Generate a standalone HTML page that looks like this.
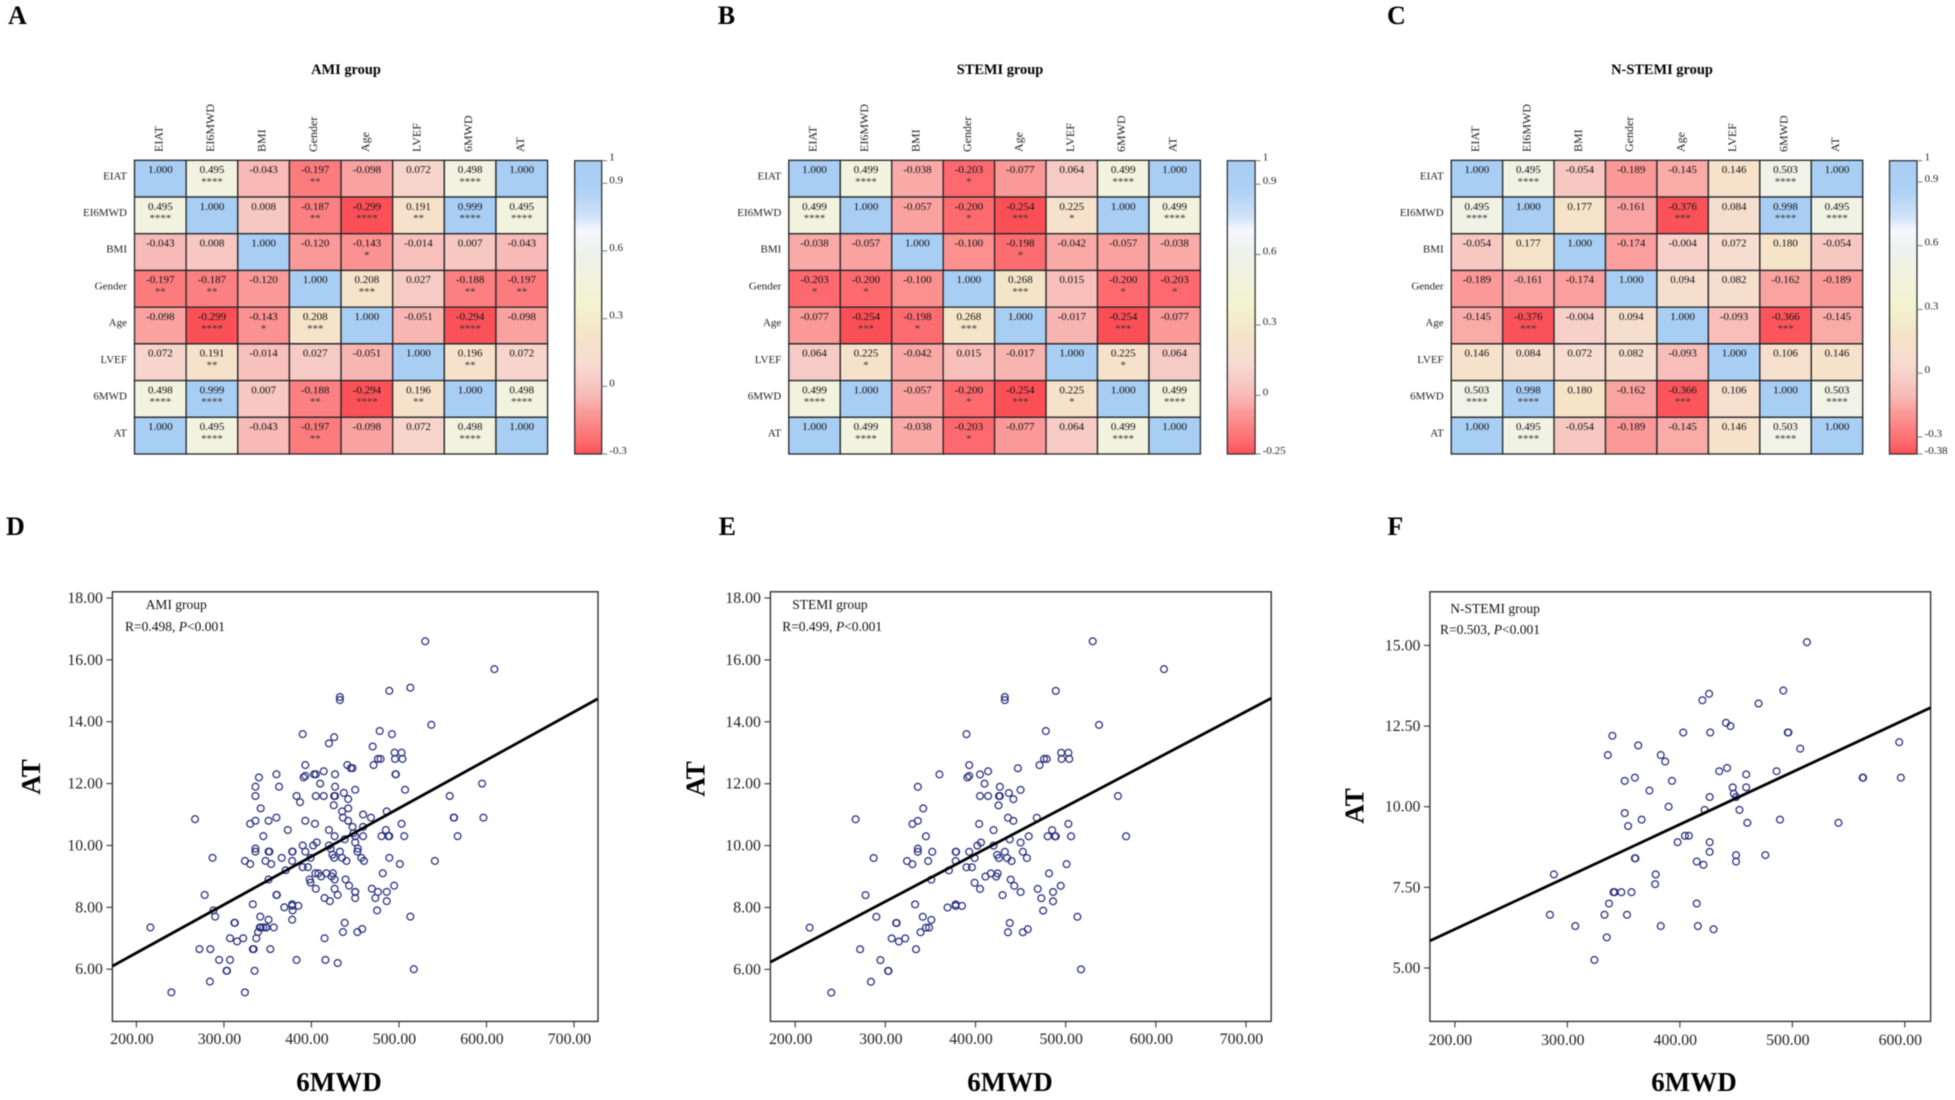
<!DOCTYPE html>
<html lang="en">
<head>
<meta charset="utf-8">
<title>Correlation heatmaps and scatter plots</title>
<style>
html,body{margin:0;padding:0;background:#fff;}
#figure{display:block;width:1955px;height:1100px;font-family:"Liberation Serif",serif;filter:blur(0.4px);}
</style>
</head>
<body>
<svg id="figure" xmlns="http://www.w3.org/2000/svg" width="1955" height="1100" viewBox="0 0 1955 1100">
<defs id="defs"></defs>
</svg>
<script>
/* ---------- heatmap data ---------- */
const variables = ["EIAT","EI6MWD","BMI","Gender","Age","LVEF","6MWD","AT"];

const matrixAmi = [
 [1,0.495,-0.043,-0.197,-0.098,0.072,0.498,1],
 [0.495,1,0.008,-0.187,-0.299,0.191,0.999,0.495],
 [-0.043,0.008,1,-0.120,-0.143,-0.014,0.007,-0.043],
 [-0.197,-0.187,-0.120,1,0.208,0.027,-0.188,-0.197],
 [-0.098,-0.299,-0.143,0.208,1,-0.051,-0.294,-0.098],
 [0.072,0.191,-0.014,0.027,-0.051,1,0.196,0.072],
 [0.498,0.999,0.007,-0.188,-0.294,0.196,1,0.498],
 [1,0.495,-0.043,-0.197,-0.098,0.072,0.498,1]
];
const starsAmi = [
 [0,4,0,2,0,0,4,0],
 [4,0,0,2,4,2,4,4],
 [0,0,0,0,1,0,0,0],
 [2,2,0,0,3,0,2,2],
 [0,4,1,3,0,0,4,0],
 [0,2,0,0,0,0,2,0],
 [4,4,0,2,4,2,0,4],
 [0,4,0,2,0,0,4,0]
];
const colorbarTicksAmi = [1,0.9,0.6,0.3,0,-0.3];

const matrixStemi = [
 [1,0.499,-0.038,-0.203,-0.077,0.064,0.499,1],
 [0.499,1,-0.057,-0.200,-0.254,0.225,1,0.499],
 [-0.038,-0.057,1,-0.100,-0.198,-0.042,-0.057,-0.038],
 [-0.203,-0.200,-0.100,1,0.268,0.015,-0.200,-0.203],
 [-0.077,-0.254,-0.198,0.268,1,-0.017,-0.254,-0.077],
 [0.064,0.225,-0.042,0.015,-0.017,1,0.225,0.064],
 [0.499,1,-0.057,-0.200,-0.254,0.225,1,0.499],
 [1,0.499,-0.038,-0.203,-0.077,0.064,0.499,1]
];
const starsStemi = [
 [0,4,0,1,0,0,4,0],
 [4,0,0,1,3,1,0,4],
 [0,0,0,0,1,0,0,0],
 [1,1,0,0,3,0,1,1],
 [0,3,1,3,0,0,3,0],
 [0,1,0,0,0,0,1,0],
 [4,0,0,1,3,1,0,4],
 [0,4,0,1,0,0,4,0]
];
const colorbarTicksStemi = [1,0.9,0.6,0.3,0,-0.25];

const matrixNstemi = [
 [1,0.495,-0.054,-0.189,-0.145,0.146,0.503,1],
 [0.495,1,0.177,-0.161,-0.376,0.084,0.998,0.495],
 [-0.054,0.177,1,-0.174,-0.004,0.072,0.180,-0.054],
 [-0.189,-0.161,-0.174,1,0.094,0.082,-0.162,-0.189],
 [-0.145,-0.376,-0.004,0.094,1,-0.093,-0.366,-0.145],
 [0.146,0.084,0.072,0.082,-0.093,1,0.106,0.146],
 [0.503,0.998,0.180,-0.162,-0.366,0.106,1,0.503],
 [1,0.495,-0.054,-0.189,-0.145,0.146,0.503,1]
];
const starsNstemi = [
 [0,4,0,0,0,0,4,0],
 [4,0,0,0,3,0,4,4],
 [0,0,0,0,0,0,0,0],
 [0,0,0,0,0,0,0,0],
 [0,3,0,0,0,0,3,0],
 [0,0,0,0,0,0,0,0],
 [4,4,0,0,3,0,0,4],
 [0,4,0,0,0,0,4,0]
];
const colorbarTicksNstemi = [1,0.9,0.6,0.3,0,-0.3,-0.38];

/* ---------- scatter data ---------- */
const stemiWalk = [530,609,489,432.5,432.5,537,390,478,495,503,495.5,504,476,479,471,393,447,414,360,405,391,393,410,336,427,450,437,405,414,426,427,558,442,425.5,342,436,468,267,336,442,330,404,503,420,485,345,459,480,488,489,506,567,438,406,450,402,420,336,336,352,378,378.5,393,432.5,452.5,424,287,399,426,435,457,324,347.5,378,440,330,501,390,396,370.5,417,424.5,481.5,411,423,351,439,399,443,494.5,405,469,450,486,278,430,473,486,333,378,378,385,369,475,290,341.5,513,351,312,312.5,438,216,345,348.5,458,339,436,452.5,307,322,315,272,334,294.5,303,303.5,517,284,240];
const stemiAT = [16.6,15.7,15.0,14.8,14.7,13.9,13.6,13.7,13.0,13.0,12.8,12.8,12.8,12.8,12.6,12.6,12.5,12.4,12.3,12.3,12.2,12.25,12.0,11.9,11.9,11.8,11.7,11.6,11.6,11.6,11.6,11.6,11.5,11.3,11.2,10.9,10.9,10.85,10.8,10.8,10.7,10.7,10.7,10.5,10.5,10.3,10.3,10.3,10.3,10.3,10.3,10.3,10.2,10.1,10.1,10.0,10.0,9.9,9.8,9.8,9.8,9.8,9.8,9.8,9.8,9.7,9.6,9.6,9.6,9.6,9.6,9.5,9.5,9.5,9.5,9.4,9.4,9.3,9.3,9.2,9.1,9.1,9.1,9.0,9.0,8.9,8.9,8.8,8.7,8.7,8.6,8.6,8.5,8.5,8.4,8.4,8.3,8.2,8.1,8.1,8.05,8.05,8.0,7.9,7.7,7.7,7.7,7.6,7.5,7.5,7.5,7.35,7.35,7.35,7.3,7.2,7.2,7.2,7.0,7.0,6.9,6.65,6.65,6.3,5.95,5.95,6.0,5.6,5.25];

const nstemiWalk = [513,492,426,420,470,441,445,403,427,496,496.5,340,363,595,507,336,383,387,442,435,486,459,360,562.5,563,596.5,351,393,447,459,373,448,426.5,450,390,422,453,351,366,489,354,460,541,404.5,408,398,426.5,426.5,450,476,360,360.5,415,450,421,288,378.5,378,341,342,348,357,337,415,284.5,333,353,307,383,416,430,335,324];
const nstemiAT = [15.1,13.6,13.5,13.3,13.2,12.6,12.5,12.3,12.3,12.3,12.3,12.2,11.9,12.0,11.8,11.6,11.6,11.4,11.2,11.1,11.1,11.0,10.9,10.9,10.9,10.9,10.8,10.8,10.6,10.6,10.5,10.4,10.3,10.3,10.0,9.9,9.9,9.8,9.6,9.6,9.4,9.5,9.5,9.1,9.1,8.9,8.9,8.6,8.5,8.5,8.4,8.4,8.3,8.3,8.2,7.9,7.9,7.6,7.35,7.35,7.35,7.35,7.0,7.0,6.65,6.65,6.65,6.3,6.3,6.3,6.2,5.95,5.25];

/* The whole AMI cohort is the STEMI patients plus the N-STEMI patients. */
const amiWalk = stemiWalk.concat(nstemiWalk);
const amiAT = stemiAT.concat(nstemiAT);

const fitAmiWalk = [172.6,727];
const fitAmiAT = [6.1,14.74];
const fitStemiWalk = [172.5,728];
const fitStemiAT = [6.235,14.76];
const fitNstemiWalk = [177.7,623];
const fitNstemiAT = [5.84,13.07];

const walkTicksWide = [200,300,400,500,600,700];
const walkTicksNarrow = [200,300,400,500,600];
const atTicksWide = [6,8,10,12,14,16,18];
const atTicksNarrow = [5,7.5,10,12.5,15];

/* ---------- drawing ---------- */
const SVG_NS = "http://www.w3.org/2000/svg";
const svg = document.getElementById("figure");
const defs = document.getElementById("defs");

function add(parent, tag, attrs, text) {
  const node = document.createElementNS(SVG_NS, tag);
  for (const key in attrs) node.setAttribute(key, attrs[key]);
  if (text !== undefined) node.textContent = text;
  parent.appendChild(node);
  return node;
}

function linearScale(v0, p0, v1, p1) {
  return function (v) { return p0 + (v - v0) * (p1 - p0) / (v1 - v0); };
}

const rampFractions = [0,0.04,0.079,0.14,0.2,0.25,0.309,0.411,0.514,0.695,0.764,0.81,0.9,1];
const rampColors = [[251,79,86],[253,107,111],[252,124,126],[250,154,152],[248,187,183],[247,203,197],[247,219,208],[245,229,200],[243,244,207],[239,242,238],[245,247,252],[208,226,248],[174,209,245],[169,206,244]];

function rampColor(f) {
  const t = Math.max(0, Math.min(1, f));
  let i = 0;
  while (i < rampFractions.length - 2 && t > rampFractions[i + 1]) i++;
  const u = (t - rampFractions[i]) / (rampFractions[i + 1] - rampFractions[i]);
  const a = rampColors[i], b = rampColors[i + 1];
  return "rgb(" + [0,1,2].map(function (k) { return Math.round(a[k] + (b[k] - a[k]) * u); }).join(",") + ")";
}

const gradient = add(defs, "linearGradient", {id:"ramp", x1:"0", y1:"1", x2:"0", y2:"0"});
rampFractions.forEach(function (f, i) {
  add(gradient, "stop", {offset:f, "stop-color":rampColor(f)});
});

function drawHeatmap(cfg) {
  const group = add(svg, "g", {});
  
  

  const letter = add(group, "text", {x:cfg.letterX, y:24, "font-size":26, "font-weight":"bold", fill:"#000"}, cfg.letter);
  
  

  const title = add(group, "text", {x:cfg.titleX, y:74, "font-size":14.4, "font-weight":"bold", fill:"#000", "text-anchor":"middle"}, cfg.title);
  
  

  const top = 160.3, bottom = 454;
  const n = variables.length;
  const cw = (cfg.right - cfg.left) / n, ch = (bottom - top) / n;
  const lo = cfg.ticks[cfg.ticks.length - 1];
  const colorOf = linearScale(lo, 0, 1, 1);

  variables.forEach(function (name, i) {
    const col = add(group, "text", {
      x:0, y:0, "font-size":12, fill:"#222",
      transform:"translate(" + (cfg.left + cw * (i + 0.5) + 2) + " 152) rotate(-90)"
    }, name);
    
    

    const row = add(group, "text", {
      x:cfg.left - 7.5, y:top + ch * i + 19, "font-size":11, fill:"#222", "text-anchor":"end"
    }, name);
    
    
  });

  cfg.matrix.forEach(function (rowValues, r) {
    rowValues.forEach(function (value, c) {
      const x = cfg.left + cw * c, y = top + ch * r;
      const cell = add(group, "rect", {x:x, y:y, width:cw, height:ch, fill:rampColor(colorOf(value)), stroke:"#222528", "stroke-width":1.3});
      
      

      const label = add(group, "text", {x:x + cw / 2, y:y + 12.8, "font-size":11, fill:"#111", "text-anchor":"middle"}, value.toFixed(3));
      
      

      const count = cfg.stars[r][c];
      if (count > 0) {
        const mark = add(group, "text", {x:x + cw / 2, y:y + 24.6, "font-size":10.8, fill:"#333", "text-anchor":"middle"}, "*".repeat(count));
        
        
      }
    });
  });

  const barY = linearScale(lo, bottom, 1, 160.7);
  const bar = add(group, "rect", {x:cfg.barLeft, y:160.7, width:cfg.barRight - cfg.barLeft, height:bottom - 160.7, fill:"url(#ramp)", stroke:"#333", "stroke-width":1.3});
  
  

  cfg.ticks.forEach(function (t) {
    const tick = add(group, "line", {x1:cfg.barRight, x2:cfg.barRight + 5.5, y1:barY(t), y2:barY(t), stroke:"#777", "stroke-width":1});
    
    

    const tickLabel = add(group, "text", {x:cfg.barRight + 7.6, y:barY(t), "font-size":11, fill:"#222"}, String(t));
    
    
  });
}

function drawScatter(cfg) {
  const group = add(svg, "g", {});
  
  

  const letter = add(group, "text", {x:cfg.letterX, y:535, "font-size":26, "font-weight":"bold", fill:"#000"}, cfg.letter);
  
  

  const xPos = linearScale(200, cfg.x200, cfg.xRef, cfg.xRefPos);
  const yPos = linearScale(cfg.yRefA, cfg.yRefAPos, cfg.yRefB, cfg.yRefBPos);
  const top = 591.8, bottom = 1021.4;

  const frame = add(group, "rect", {x:cfg.left, y:top, width:cfg.right - cfg.left, height:bottom - top, fill:"#fff", stroke:"#333", "stroke-width":1.4});
  
  

  cfg.xTicks.forEach(function (t) {
    const tick = add(group, "line", {x1:xPos(t), x2:xPos(t), y1:bottom, y2:bottom + 6, stroke:"#333", "stroke-width":1.1});
    
    

    const label = add(group, "text", {x:xPos(t) - 4.5, y:cfg.xLabelY, "font-size":15.8, fill:"#222", "text-anchor":"middle"}, t.toFixed(2));
    
    
  });

  cfg.yTicks.forEach(function (t) {
    const tick = add(group, "line", {x1:cfg.left - 6, x2:cfg.left, y1:yPos(t), y2:yPos(t), stroke:"#333", "stroke-width":1.1});
    
    

    const label = add(group, "text", {x:cfg.left - 9.5, y:yPos(t) + 5, "font-size":15.8, fill:"#222", "text-anchor":"end"}, t.toFixed(2));
    
    
  });

  cfg.walk.forEach(function (w, i) {
    const point = add(group, "circle", {cx:xPos(w), cy:yPos(cfg.at[i]), r:3.4, fill:"none", stroke:"#262d7c", "stroke-width":1.25});
    
    
  });

  const fit = add(group, "line", {x1:xPos(cfg.fitWalk[0]), y1:yPos(cfg.fitAT[0]), x2:xPos(cfg.fitWalk[1]), y2:yPos(cfg.fitAT[1]), stroke:"#000", "stroke-width":2.8});
  
  

  const note = add(group, "text", {x:cfg.noteX, y:cfg.noteY, "font-size":13.5, fill:"#111"}, cfg.title);
  
  

  const stat = add(group, "text", {x:cfg.statX, y:cfg.statY, "font-size":13.5, fill:"#111"});
  
  
  add(stat, "tspan", {}, "R=" + cfg.r + ", ");
  add(stat, "tspan", {"font-style":"italic"}, "P");
  add(stat, "tspan", {}, "<0.001");

  const xTitle = add(group, "text", {x:cfg.xTitleX, y:1091, "font-size":27, "font-weight":"bold", fill:"#000", "text-anchor":"middle"}, "6MWD");
  
  

  const yTitle = add(group, "text", {x:0, y:0, "font-size":27, "font-weight":"bold", fill:"#000", "text-anchor":"middle",
    transform:"translate(" + cfg.yTitleX + " " + cfg.yTitleY + ") rotate(-90)"}, "AT");
  
  
}

drawHeatmap({name:"ami", letter:"A", letterX:8, title:"AMI group", titleX:346, left:134.5, right:547.6, barLeft:574.7, barRight:601.7, matrix:matrixAmi, stars:starsAmi, ticks:colorbarTicksAmi});
drawHeatmap({name:"stemi", letter:"B", letterX:717.7, title:"STEMI group", titleX:1000, left:788.8, right:1200.4, barLeft:1227.3, barRight:1255.1, matrix:matrixStemi, stars:starsStemi, ticks:colorbarTicksStemi});
drawHeatmap({name:"nstemi", letter:"C", letterX:1387, title:"N-STEMI group", titleX:1662, left:1451.2, right:1862.7, barLeft:1889.5, barRight:1917, matrix:matrixNstemi, stars:starsNstemi, ticks:colorbarTicksNstemi});

drawScatter({name:"ami", letter:"D", letterX:6, title:"AMI group", r:"0.498", left:112.4, right:598, x200:136.4, xRef:700, xRefPos:574, yRefA:18, yRefAPos:598, yRefB:6, yRefBPos:969.2, xTicks:walkTicksWide, yTicks:atTicksWide, xLabelY:1044, walk:amiWalk, at:amiAT, fitWalk:fitAmiWalk, fitAT:fitAmiAT, noteX:145.7, noteY:609, statX:125, statY:631, xTitleX:339, yTitleX:40, yTitleY:777});
drawScatter({name:"stemi", letter:"E", letterX:718.6, title:"STEMI group", r:"0.499", left:770.4, right:1271.2, x200:795.2, xRef:700, xRefPos:1246, yRefA:18, yRefAPos:598, yRefB:6, yRefBPos:969.4, xTicks:walkTicksWide, yTicks:atTicksWide, xLabelY:1044, walk:stemiWalk, at:stemiAT, fitWalk:fitStemiWalk, fitAT:fitStemiAT, noteX:792.3, noteY:609, statX:782.2, statY:631, xTitleX:1010, yTitleX:704.7, yTitleY:779});
drawScatter({name:"nstemi", letter:"F", letterX:1387.4, title:"N-STEMI group", r:"0.503", left:1429.9, right:1930.6, x200:1454.9, xRef:600, xRefPos:1904.8, yRefA:15, yRefAPos:645.4, yRefB:5, yRefBPos:968, xTicks:walkTicksNarrow, yTicks:atTicksNarrow, xLabelY:1045, walk:nstemiWalk, at:nstemiAT, fitWalk:fitNstemiWalk, fitAT:fitNstemiAT, noteX:1450.3, noteY:613, statX:1440, statY:634, xTitleX:1694, yTitleX:1363.5, yTitleY:806});
</script>
</body>
</html>
